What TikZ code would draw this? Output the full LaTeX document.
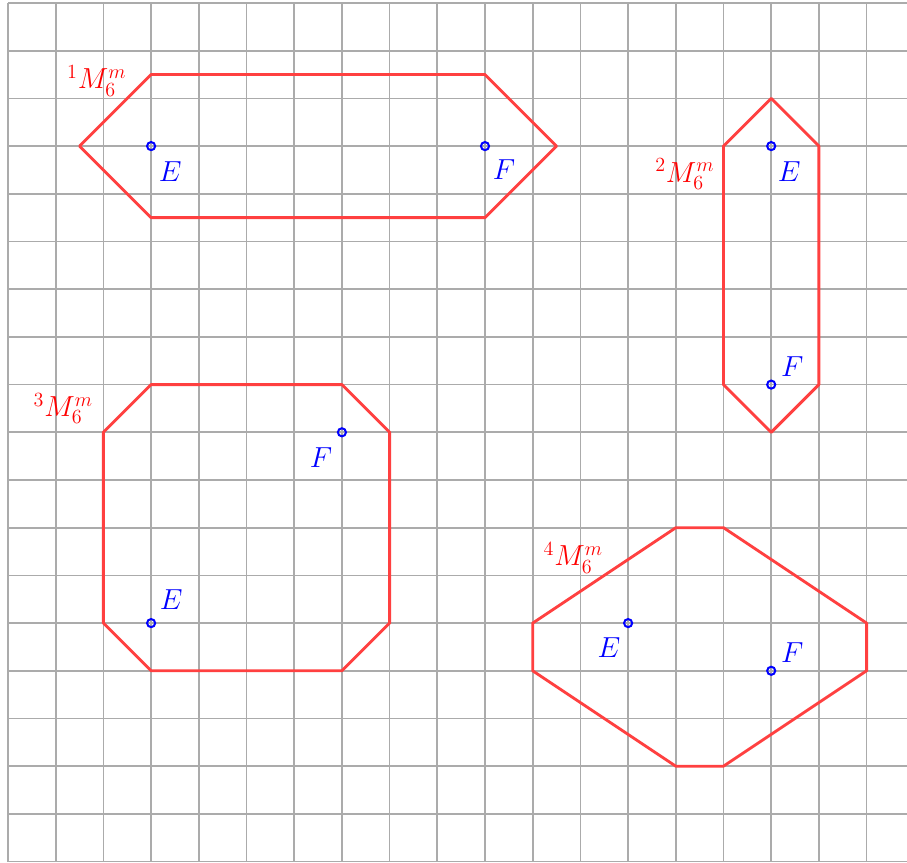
\documentclass[tikz,border=0pt]{standalone}
\usetikzlibrary{calc}
\begin{document}
\begin{tikzpicture}[x=1cm,y=1cm,
  gridline/.style={draw=black!33, line width=1pt},
  poly/.style={draw=red!75, line width=1.7pt, line join=round},
  pt/.style={draw=blue, line width=1.2pt},
  ptlbl/.style={text=blue, font=\fontsize{16.5}{20}\selectfont},
  mlbl/.style={text=red, font=\fontsize{16.5}{20}\selectfont}]
\useasboundingbox (-0.168,-0.022) rectangle (18.847,18.063);
% grid
\draw[gridline] (0,0) grid (18.9,18);
% shape 1
\draw[poly] (1.5,15) -- (3,16.5) -- (10,16.5) -- (11.5,15) -- (10,13.5) -- (3,13.5) -- cycle;
\coordinate (E1) at (3,15); \coordinate (F1) at (10,15);
\node[mlbl] (M1) at (1.86,16.37) {${}^1M_6^m$};
% shape 2
\draw[poly] (16,16) -- (17,15) -- (17,10) -- (16,9) -- (15,10) -- (15,15) -- cycle;
\coordinate (E2) at (16,15); \coordinate (F2) at (16,10);
\node[mlbl] (M2) at (14.19,14.41) {${}^2M_6^m$};
% shape 3
\draw[poly] (3,10) -- (7,10) -- (8,9) -- (8,5) -- (7,4) -- (3,4) -- (2,5) -- (2,9) -- cycle;
\coordinate (E3) at (3,5); \coordinate (F3) at (7,9);
\node[mlbl] (M3) at (1.16,9.50) {${}^3M_6^m$};
% shape 4
\draw[poly] (14,7) -- (15,7) -- (18,5) -- (18,4) -- (15,2) -- (14,2) -- (11,4) -- (11,5) -- cycle;
\coordinate (E4) at (13,5); \coordinate (F4) at (16,4);
\node[mlbl] (M4) at (11.85,6.37) {${}^4M_6^m$};
% points
\foreach \p in {E1,F1,E2,F2,E3,F3,E4,F4} \draw[pt] (\p) circle (0.085);
% point labels
\node[ptlbl] (lE1) at ($(E1)+(0.40,-0.53)$) {$E$};
\node[ptlbl] (lF1) at ($(F1)+(0.40,-0.50)$) {$F$};
\node[ptlbl] (lE2) at ($(E2)+(0.38,-0.53)$) {$E$};
\node[ptlbl] (lF2) at ($(F2)+(0.44,0.38)$) {$F$};
\node[ptlbl] (lE3) at ($(E3)+(0.42,0.49)$) {$E$};
\node[ptlbl] (lF3) at ($(F3)+(-0.44,-0.53)$) {$F$};
\node[ptlbl] (lE4) at ($(E4)+(-0.40,-0.51)$) {$E$};
\node[ptlbl] (lF4) at ($(F4)+(0.44,0.38)$) {$F$};
\end{tikzpicture}
\end{document}
